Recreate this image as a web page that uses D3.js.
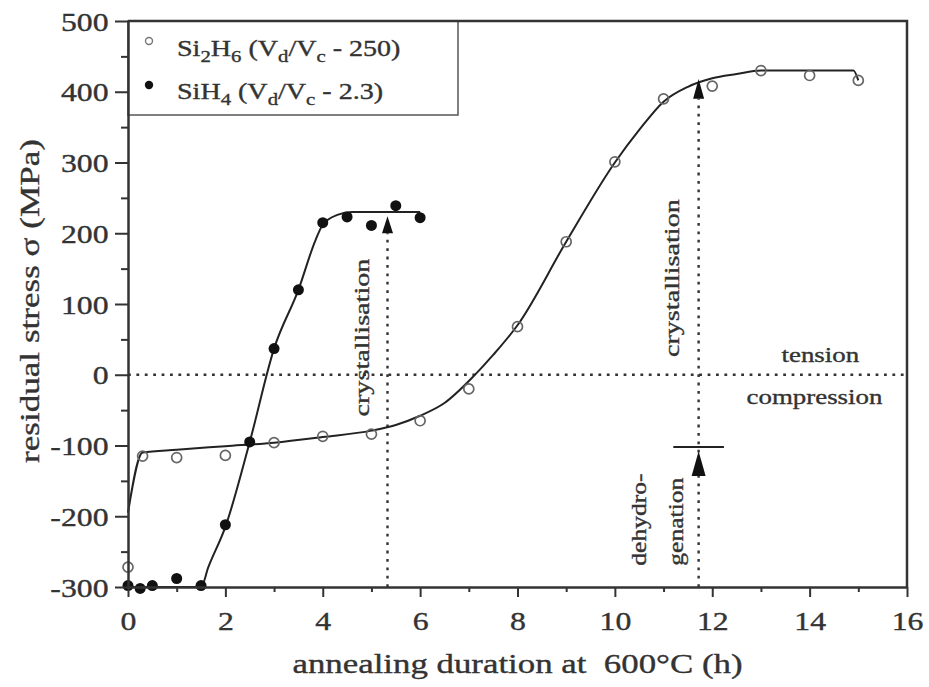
<!DOCTYPE html>
<html>
<head>
<meta charset="utf-8">
<script src="https://cdn.jsdelivr.net/npm/d3@7"></script>
<style>
  html, body { margin: 0; padding: 0; background: #fff; }
  svg { display: block; font-family: "Liberation Serif", "Times New Roman", serif; }
  text { fill: #333; stroke: #333; stroke-width: 0.35px; white-space: pre; }
</style>
</head>
<body>
<svg id="chart" width="929" height="687"></svg>
<script>
// ── Data ──
const xTicks = [0, 2, 4, 6, 8, 10, 12, 14, 16];
const xMinor = [1, 3, 5, 7, 9, 11, 13, 15];
const yTicks = [-300, -200, -100, 0, 100, 200, 300, 400, 500];
const yMinor = [-250, -150, -50, 50, 150, 250, 350, 450];

// Si2H6 (open circles)
const si2h6X = [0, 0.3, 1, 2, 3, 4, 5, 6, 7, 8, 9, 10, 11, 12, 13, 14, 15];
const si2h6Y = [-272, -115, -117, -114, -96, -87, -84, -65, -20, 68, 188, 301, 390, 408, 430, 423, 416];
// SiH4 (filled circles)
const sih4X = [0, 0.25, 0.5, 1, 1.5, 2, 2.5, 3, 3.5, 4, 4.5, 5, 5.5, 6];
const sih4Y = [-298, -302, -298, -288, -298, -212, -95, 37, 120, 215, 223, 211, 239, 222];

// hand-drawn guide curves as seen in the figure
const si2h6FitX = [0, 0.3, 1, 2, 3, 4, 5, 5.5, 6, 6.5, 7.1, 7.5, 8, 9, 10, 10.5, 11, 11.5, 12, 12.5, 13, 14, 14.9, 15];
const si2h6FitY = [-195, -110, -106, -101, -96, -88, -79, -71, -58, -40, -2, 28, 70, 188, 300, 346, 386, 407, 419, 425, 430, 430, 430, 416];
const sih4FitX = [0, 1.5, 1.65, 2, 2.5, 3, 3.5, 3.85, 4, 4.3, 4.6, 6];
const sih4FitY = [-300, -300, -272, -215, -95, 37, 120, 190, 212, 226, 230, 230];

// crystallisation arrows: x position, arrow tip, arrow base
const crystX = [5.33, 11.72];
const crystTip = [224, 418];
const crystBase = [200, 390];
// dehydrogenation marker
const dehydroX = 11.72;
const dehydroBar = [11.2, 12.24, -102];   // x from, x to, y
const dehydroTip = -108, dehydroBase = -143;

// ── Layout ──
const W = 929, H = 687;
const margin = { top: 21, right: 22, bottom: 100, left: 128 };
const w = W - margin.left - margin.right;
const h = H - margin.top - margin.bottom;
const SX = 1.28;   // the original serif face is wider than Times

const svg = d3.select('#chart');
const g = svg.append('g').attr('transform', `translate(${margin.left},${margin.top})`);

const x = d3.scaleLinear().domain([0, 16]).range([0, w]);
const y = d3.scaleLinear().domain([-300, 500]).range([h, 0]);

function label(parent, str, px, py, o = {}) {
  const gg = parent.append('g')
    .attr('transform', `translate(${px},${py}) rotate(${o.rotate || 0}) scale(${o.sx || SX},1)`);
  return gg.append('text')
    .attr('font-size', o.size || 21)
    .attr('text-anchor', o.anchor || 'start')
    .text(str);
}

// ── Legend ──
const leg = g.append('g');
leg.append('rect')
  .attr('x', 0).attr('y', 0).attr('width', 330).attr('height', 94)
  .attr('fill', '#fff').attr('stroke', '#555').attr('stroke-width', 1.5);
leg.append('circle').attr('cx', 21).attr('cy', 20).attr('r', 3.5)
  .attr('fill', 'none').attr('stroke', '#777').attr('stroke-width', 1.4);
leg.append('circle').attr('cx', 21).attr('cy', 64).attr('r', 4.2).attr('fill', '#111');

function legendText(parent, px, py, parts) {
  const t = parent.append('g')
    .attr('transform', `translate(${px},${py}) scale(1.22,1)`)
    .append('text').attr('font-size', 23);
  let shift = 0;
  parts.forEach(([s, sub]) => {
    const dy = sub ? 6 - shift : -shift;
    shift = sub ? 6 : 0;
    t.append('tspan').attr('dy', dy).attr('font-size', sub ? 17 : 23).text(s);
  });
}
legendText(leg, 49, 35, [['Si'], ['2', 1], ['H'], ['6', 1], [' (V'], ['d', 1], ['/V'], ['c', 1], [' - 250)']]);
legendText(leg, 49, 78, [['SiH'], ['4', 1], [' (V'], ['d', 1], ['/V'], ['c', 1], [' - 2.3)']]);

// ── Dotted guides ──
const dotted = g.append('g').attr('stroke', '#333').attr('stroke-width', 2.4)
  .attr('stroke-dasharray', '2.8,5.6').attr('fill', 'none');
dotted.append('line').attr('x1', 0).attr('x2', w).attr('y1', y(0)).attr('y2', y(0));
crystX.forEach((cx, i) => {
  dotted.append('line')
    .attr('x1', x(cx)).attr('x2', x(cx))
    .attr('y1', y(-300)).attr('y2', y(crystBase[i]));
});

// ── Fit curves ──
const line = d3.line().x(d => x(d[0])).y(d => y(d[1])).curve(d3.curveMonotoneX);
g.append('path').datum(si2h6FitX.map((v, i) => [v, si2h6FitY[i]]))
  .attr('d', line).attr('fill', 'none').attr('stroke', '#222').attr('stroke-width', 2);
g.append('path').datum(sih4FitX.map((v, i) => [v, sih4FitY[i]]))
  .attr('d', line).attr('fill', 'none').attr('stroke', '#222').attr('stroke-width', 2);

// ── Points ──
g.append('g').selectAll('circle')
  .data(si2h6X.map((v, i) => [v, si2h6Y[i]]))
  .join('circle')
  .attr('cx', d => x(d[0])).attr('cy', d => y(d[1])).attr('r', 5)
  .attr('fill', 'none').attr('stroke', '#666').attr('stroke-width', 1.7);
g.append('g').selectAll('circle')
  .data(sih4X.map((v, i) => [v, sih4Y[i]]))
  .join('circle')
  .attr('cx', d => x(d[0])).attr('cy', d => y(d[1])).attr('r', 5.5)
  .attr('fill', '#111');

// ── Arrows ──
function arrow(cx, tip, base, half) {
  const px = x(cx);
  g.append('path')
    .attr('d', `M${px},${y(tip)}L${px - half},${y(base)}L${px + half},${y(base)}Z`)
    .attr('fill', '#111');
}
crystX.forEach((cx, i) => arrow(cx, crystTip[i], crystBase[i], 5.5));
arrow(dehydroX, dehydroTip, dehydroBase, 7);
g.append('line')
  .attr('x1', x(dehydroBar[0])).attr('x2', x(dehydroBar[1]))
  .attr('y1', y(dehydroBar[2])).attr('y2', y(dehydroBar[2]))
  .attr('stroke', '#222').attr('stroke-width', 2);

// ── Annotations ──
label(g, 'crystallisation', x(crystX[0]) - 19, y(-59), { rotate: -90, size: 22 });
label(g, 'crystallisation', x(crystX[1]) - 20, y(25), { rotate: -90, size: 22 });
label(g, 'dehydro-', x(dehydroX) - 53, y(-270), { rotate: -90, size: 20 });
label(g, 'genation', x(dehydroX) - 16, y(-270), { rotate: -90, size: 20 });
label(g, 'tension', x(14.22), y(18), { anchor: 'middle', size: 21 });
label(g, 'compression', x(14.1), y(-41), { anchor: 'middle', size: 21 });

// ── Axes ──
const xAxis = g.append('g').attr('transform', `translate(0,${h})`)
  .call(d3.axisBottom(x).tickValues(xTicks).tickSize(10).tickSizeOuter(0).tickFormat(d => String(d)));
g.append('g').attr('transform', `translate(0,${h})`)
  .call(d3.axisBottom(x).tickValues(xMinor).tickSize(5).tickFormat(''))
  .call(a => a.select('.domain').remove());
const yAxis = g.append('g')
  .call(d3.axisLeft(y).tickValues(yTicks).tickSize(13).tickSizeOuter(0).tickFormat(d => String(d)));
g.append('g')
  .call(d3.axisLeft(y).tickValues(yMinor).tickSize(7).tickFormat(''))
  .call(a => a.select('.domain').remove());

g.selectAll('.tick line').attr('stroke', '#333').attr('stroke-width', 2);
g.selectAll('.domain').attr('stroke', '#333').attr('stroke-width', 2.5);

xAxis.selectAll('.tick text')
  .attr('font-size', 25).attr('font-family', null).attr('fill', '#333')
  .attr('y', 43).attr('dy', 0)
  .attr('transform', 'scale(1.27,1)');
yAxis.selectAll('.tick text')
  .attr('font-size', 25).attr('font-family', null).attr('fill', '#333')
  .attr('x', -19.5 / 1.27).attr('dy', '0.36em')
  .attr('transform', 'scale(1.27,1)');
svg.selectAll('.tick text').style('font-family', '"Liberation Serif", "Times New Roman", serif');

// frame: top and right edges
g.append('path')
  .attr('d', `M0,0H${w}V${h}`)
  .attr('fill', 'none').attr('stroke', '#333').attr('stroke-width', 2.5);

// ── Axis titles ──
label(svg, 'annealing duration at  600°C (h)', margin.left + w / 2, 673,
  { anchor: 'middle', size: 27, sx: 1.29 });
label(svg, 'residual stress σ (MPa)', 39, 301,
  { anchor: 'middle', size: 27, sx: 1.3, rotate: -90 });
</script>
</body>
</html>
